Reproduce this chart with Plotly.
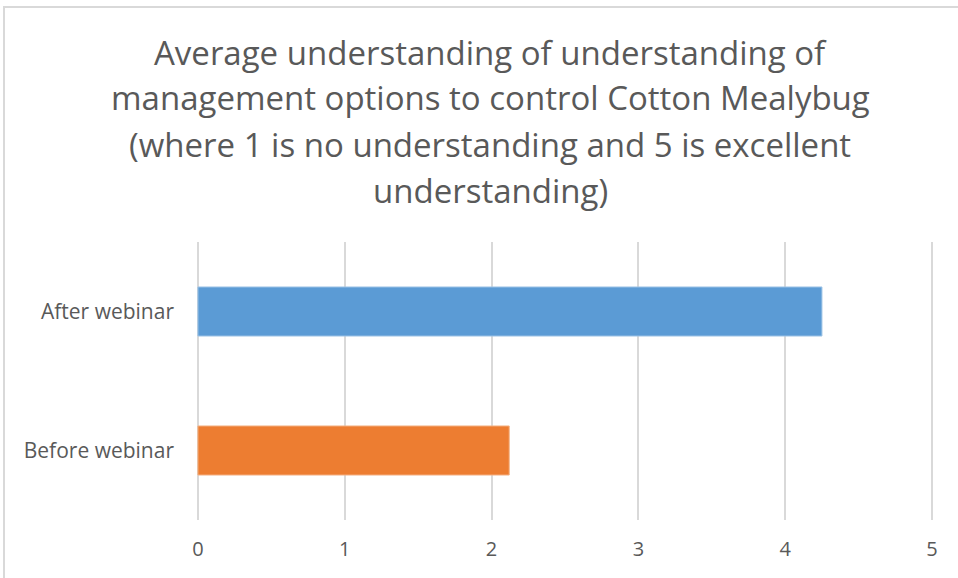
import plotly.graph_objects as go

categories = ["Before webinar", "After webinar"]
values = [2.12, 4.25]
colors = ["#ED7D31", "#5B9BD5"]
edge_colors = ["#F4B183", "#9DC3E6"]
title_lines = [
    "Average understanding of understanding of",
    "management options to control Cotton Mealybug",
    "(where 1 is no understanding and 5 is excellent",
    "understanding)",
]
x_ticks = [0, 1, 2, 3, 4, 5]

W, H = 958, 578
ML, MR, MT, MB = 195, 23, 242, 58
plot_w = W - ML - MR
plot_h = H - MT - MB

fig = go.Figure()
fig.add_trace(go.Bar(
    y=categories, x=values, orientation="h",
    marker=dict(color=colors, line=dict(color=edge_colors, width=1)),
    width=0.353, showlegend=False, hoverinfo="x+y",
))

font_family = "Open Sans, Noto Sans, sans-serif"
gray = "#595959"

centers = [52, 98, 144, 190]
annotations = []
for line, ypix in zip(title_lines, centers):
    annotations.append(dict(
        text=line, xref="paper", yref="paper",
        x=(490 - ML) / plot_w, y=(H - MB - ypix) / plot_h,
        xanchor="center", yanchor="middle", showarrow=False,
        font=dict(family=font_family, size=33, color=gray),
    ))

fig.update_layout(
    width=W, height=H,
    margin=dict(l=ML, r=MR, t=MT, b=MB),
    paper_bgcolor="white", plot_bgcolor="white",
    annotations=annotations,
    xaxis=dict(
        range=[-0.02, 5.02], tickvals=x_ticks, showgrid=True,
        gridcolor="#D9D9D9", gridwidth=2, zeroline=False, showline=False,
        tickfont=dict(family=font_family, size=20, color=gray),
        ticks="", ticklabelstandoff=15,
    ),
    yaxis=dict(
        showgrid=False, zeroline=False, showline=False,
        tickfont=dict(family=font_family, size=21, color=gray),
        ticks="", ticklabelstandoff=20,
    ),
    shapes=[dict(
        type="rect", xref="paper", yref="paper",
        x0=(4 - ML) / plot_w, x1=(W + 20 - ML) / plot_w,
        y0=(H - MB - (H + 20)) / plot_h, y1=(H - MB - 7) / plot_h,
        line=dict(color="#D9D9D9", width=2), layer="below",
    )],
)

fig.write_html(
    "out.html",
    config={"displayModeBar": False},
    post_script="document.body.style.margin='0';document.body.style.overflow='hidden';",
)
